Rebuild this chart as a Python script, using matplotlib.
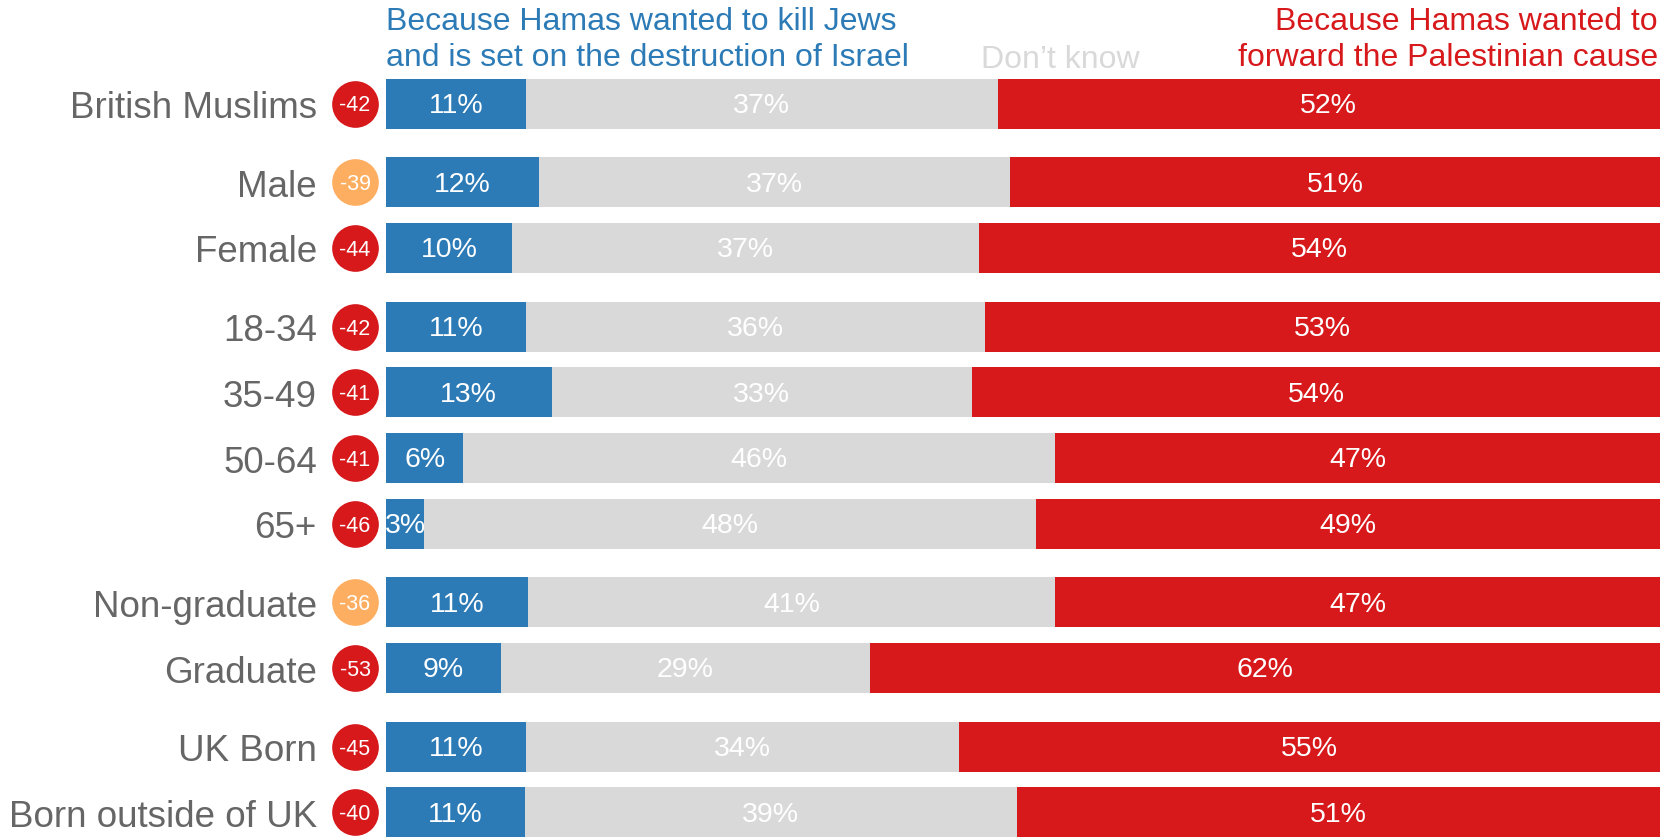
import matplotlib
matplotlib.use("Agg")
import matplotlib.pyplot as plt
import numpy as np

plt.rcParams['font.family'] = ['Liberation Sans', 'DejaVu Sans']

# ---- data ----
groups = [
    ["British Muslims"],
    ["Male", "Female"],
    ["18-34", "35-49", "50-64", "65+"],
    ["Non-graduate", "Graduate"],
    ["UK Born", "Born outside of UK"],
]
kill_jews = [11, 12, 10, 11, 13, 6, 3, 11, 9, 11, 11]
dont_know = [37, 37, 37, 36, 33, 46, 48, 41, 29, 34, 39]
palestinian = [52, 51, 54, 53, 54, 47, 49, 47, 62, 55, 51]
net = [-42, -39, -44, -42, -41, -41, -46, -36, -53, -45, -40]

header_blue = "Because Hamas wanted to kill Jews\nand is set on the destruction of Israel"
header_gray = "Don\u2019t know"
header_red = "Because Hamas wanted to\nforward the Palestinian cause"

# ---- style ----
BLUE = "#2c7bb6"
GRAY = "#d9d9d9"
RED = "#d7191c"
ORANGE = "#fdae61"
LABEL = "#666666"

W, H = 1660, 839
fig = plt.figure(figsize=(W / 100, H / 100), dpi=100)
x0 = 386 / W
ax = fig.add_axes([x0, 0, 1 - x0, 1])
ax.set_xlim(0, 100)
ax.set_ylim(11.204, -1.580)
ax.axis('off')

# y positions from group structure
ypos = []
p = 0.0
for gi, g in enumerate(groups):
    if gi > 0:
        p += 0.2
    for _ in g:
        ypos.append(p)
        p += 1.0
ypos = np.array(ypos)
cats = [c for g in groups for c in g]

b = np.array(kill_jews, float)
d = np.array(dont_know, float)
r = np.array(palestinian, float)
tot = b + d + r
bn, dn, rn = b / tot * 100, d / tot * 100, r / tot * 100

h = 0.762
ax.barh(ypos, bn, height=h, color=BLUE, linewidth=0)
ax.barh(ypos, dn, left=bn, height=h, color=GRAY, linewidth=0)
ax.barh(ypos, rn, left=bn + dn, height=h, color=RED, linewidth=0)

dy_pct = 0.035
dy_cat = 0.075
for i in range(len(cats)):
    y = ypos[i]
    ax.text(bn[i] / 2, y + dy_pct, f"{kill_jews[i]}%", ha='center', va='center',
            color='white', fontsize=20.5)
    ax.text(bn[i] + dn[i] / 2, y + dy_pct, f"{dont_know[i]}%", ha='center',
            va='center', color='white', fontsize=20.5)
    ax.text(bn[i] + dn[i] + rn[i] / 2, y + dy_pct, f"{palestinian[i]}%",
            ha='center', va='center', color='white', fontsize=20.5)
    # category label
    ax.text(-5.42, y + dy_cat, cats[i], ha='right', va='center', color=LABEL,
            fontsize=26.5, clip_on=False)
    # net circle
    col = ORANGE if net[i] > -40 else RED
    ax.scatter([-2.43], [y], s=1130, color=col, linewidths=0, clip_on=False,
               zorder=3)
    ax.text(-2.43, y + dy_pct, f"{net[i]}", ha='center', va='center',
            color='white', fontsize=15.5, zorder=4, clip_on=False)

# headers
fig.text(x0, 1 - 40 / H, header_blue, ha='left', va='center', color=BLUE,
         fontsize=23, linespacing=1.25)
fig.text(981 / W, 1 - 60 / H, header_gray, ha='left', va='center', color=GRAY,
         fontsize=23)
fig.text(1658 / W, 1 - 40 / H, header_red, ha='right', va='center', color=RED,
         fontsize=23, linespacing=1.25, multialignment='right')

fig.savefig("out.png", dpi=100, facecolor='white')
